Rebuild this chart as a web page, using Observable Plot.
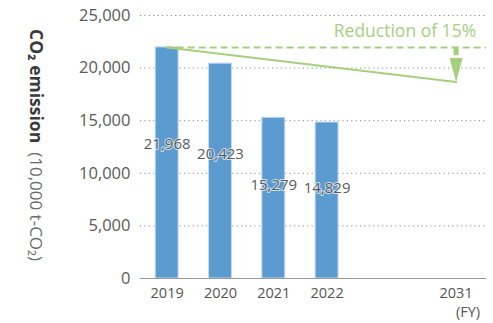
<!DOCTYPE html>
<html><head><meta charset="utf-8">
<script src="https://cdn.jsdelivr.net/npm/d3@7"></script>
<script src="https://cdn.jsdelivr.net/npm/@observablehq/plot@0.6"></script>
<style>body{margin:0;background:#fff} svg{display:block} #chart{width:493px;height:323px}</style>
</head><body><div id="chart"></div>
<script>
const years = ["2019", "2020", "2021", "2022"];
const emissions = [21968, 20423, 15279, 14829];
const targetYear = "2031";
const reductionRate = 0.15;
const yTicks = [0, 5000, 10000, 15000, 20000, 25000];
const yTitle = "CO₂ emission";
const yUnit = "(10,000 t-CO₂)";
const fyLabel = "(FY)";
const reductionLabel = "Reduction of 15%";

// layout constants
const targetSlot = 5.42;
const barHalf = 0.215;
const blue = "#5b9bd0";
const green = "#a6cf7f";
const font = "'Open Sans', sans-serif";

const bars = years.map((year, i) => ({year, i, value: emissions[i]}));
const base = emissions[0];
const target = base * (1 - reductionRate);
const xLabels = [...bars, {year: targetYear, i: targetSlot}];

const headSymbol = {
  draw(ctx) { ctx.moveTo(0, 0); ctx.lineTo(-6.5, -24); ctx.lineTo(6.5, -24); ctx.closePath(); }
};

const chart = Plot.plot({
  width: 493, height: 323,
  marginLeft: 140, marginRight: 7, marginTop: 15, marginBottom: 45,
  style: {fontFamily: font, background: "white"},
  x: {type: "linear", domain: [-0.5, 5.99], axis: null},
  y: {domain: [0, 25000]},
  marks: [
    Plot.gridY(yTicks, {stroke: "#8a8a8a", strokeOpacity: 1, strokeDasharray: "1.2,3.2"}),
    Plot.axisY(yTicks, {tickSize: 0, tickPadding: 10, fontSize: 16.5, fill: "#5a5a5a", tickFormat: d3.format(","), label: null}),
    Plot.rectY(bars, {x1: d => d.i - barHalf, x2: d => d.i + barHalf, y: "value", fill: blue, stroke: "#c2dbf1", strokeWidth: 1}),
    Plot.ruleY([0], {stroke: "#999", strokeWidth: 1.2}),
    Plot.text(bars, {x: "i", y: d => d.value * 0.58, text: d => d3.format(",")(d.value), fontSize: 15, fill: "#5a5a5a", stroke: "white", strokeWidth: 2, strokeOpacity: 0.7}),
    Plot.text(xLabels, {x: "i", y: 0, text: "year", dy: 15, fontSize: 14.5, fill: "#555"}),
    Plot.text([fyLabel], {x: targetSlot, y: 0, text: d => d, dy: 34, dx: 24, textAnchor: "end", fontSize: 14.5, fill: "#555"}),
    Plot.ruleY([base], {x1: -0.02, x2: 5.99, stroke: green, strokeWidth: 2, strokeDasharray: "7,4"}),
    Plot.line([{x: 0, y: base}, {x: targetSlot, y: target}], {x: "x", y: "y", stroke: green, strokeWidth: 2}),
    Plot.ruleX([targetSlot], {y1: base, y2: target + 2500, stroke: green, strokeWidth: 5}),
    Plot.dot([{x: targetSlot, y: target}], {x: "x", y: "y", symbol: headSymbol, fill: green, stroke: null}),
    Plot.text([reductionLabel], {x: targetSlot, y: base, text: d => d, textAnchor: "end", dx: 20, dy: -16, fontSize: 17.5, fill: green})
  ]
});

const svg = d3.select(chart);
const t = svg.append("text")
  .attr("transform", "translate(37,145) rotate(90)")
  .attr("text-anchor", "middle")
  .attr("dominant-baseline", "central")
  .attr("font-family", font);
t.append("tspan").attr("font-weight", "bold").attr("font-size", 17.5).attr("fill", "#3a3a3a").text(yTitle);
t.append("tspan").attr("font-size", 17).attr("fill", "#6a6a6a").attr("dx", 9).text(yUnit);

document.getElementById("chart").append(chart);
</script>
</body></html>
